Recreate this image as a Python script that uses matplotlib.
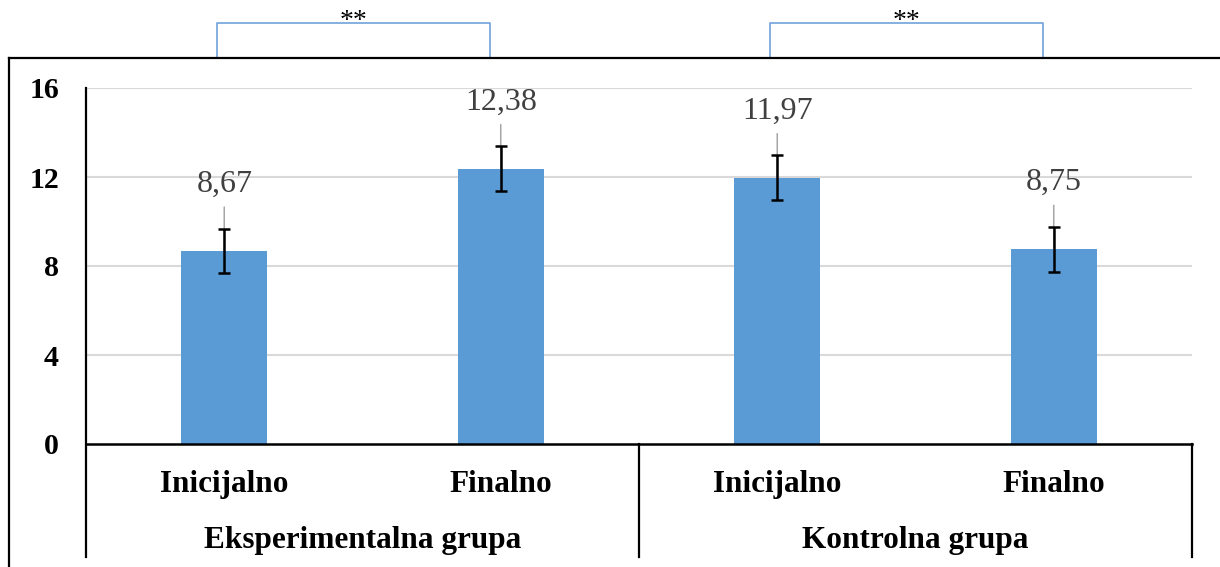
import matplotlib
matplotlib.use("Agg")
import matplotlib.pyplot as plt
from matplotlib.lines import Line2D
import matplotlib.transforms as mtransforms

# --- data ---
categories = ["Inicijalno", "Finalno", "Inicijalno", "Finalno"]
groups = ["Eksperimentalna grupa", "Kontrolna grupa"]
means = [8.67, 12.38, 11.97, 8.75]
errors = [1.0, 1.0, 1.0, 1.0]
value_labels = ["8,67", "12,38", "11,97", "8,75"]
y_ticks = [0, 4, 8, 12, 16]
significance = ["**", "**"]

BAR_COLOR = "#5B9BD5"
GRID_COLOR = "#D9D9D9"
BRACKET_COLOR = "#6FA3DA"
SERIF = ["Liberation Serif", "DejaVu Serif"]

W, H = 1220, 567
fig = plt.figure(figsize=(W / 100, H / 100), dpi=100)
fig.patch.set_facecolor("white")

def fx(px):
    return px / W

def fy(py):
    return 1 - py / H

ax = fig.add_axes([fx(86), fy(444), fx(1192) - fx(86), fy(88) - fy(444)])
x = list(range(len(categories)))

ax.bar(x, means, width=0.31, color=BAR_COLOR, zorder=2)
ax.errorbar(x, means, yerr=errors, fmt="none", ecolor="black",
            elinewidth=1.8, capsize=4.6, capthick=1.8, zorder=4)

ax.set_xlim(-0.5, len(categories) - 0.5)
ax.set_ylim(0, 16)
ax.set_yticks(y_ticks)
ax.set_yticklabels([str(t) for t in y_ticks], fontfamily=SERIF,
                   fontweight="bold", fontsize=21.5)
ax.tick_params(axis="y", length=0, pad=19.5)
ax.set_xticks([])
for t in y_ticks[1:]:
    ax.axhline(t, color=GRID_COLOR, lw=1.5, zorder=1)
for s in ax.spines.values():
    s.set_visible(False)

# value labels with leader lines
for xi, m, lab in zip(x, means, value_labels):
    ax.annotate(lab, xy=(xi, m), xytext=(0, 52), textcoords="offset pixels",
                ha="center", va="bottom", fontsize=23, color="#404040",
                fontfamily=SERIF, zorder=5)
    ax.annotate("", xy=(xi, m), xytext=(0, 44), textcoords="offset pixels",
                arrowprops=dict(arrowstyle="-", color="#A6A6A6", lw=1.1,
                                shrinkA=0, shrinkB=0), zorder=3)

# axis frame lines below the plot (category table)
bx = mtransforms.blended_transform_factory(ax.transData, fig.transFigure)
ax.add_line(Line2D([-0.5, -0.5], [fy(88), fy(557)], transform=bx,
                   color="black", lw=1.6, clip_on=False))
ax.add_line(Line2D([-0.5, 3.5], [fy(444), fy(444)], transform=bx,
                   color="black", lw=1.8, clip_on=False))
for sx in (1.5, 3.5):
    ax.add_line(Line2D([sx, sx], [fy(444), fy(557)], transform=bx,
                       color="black", lw=1.6, clip_on=False))

for xi, c in zip(x, categories):
    ax.text(xi, fy(492), c, transform=bx, ha="center", va="baseline",
            fontfamily=SERIF, fontweight="bold", fontsize=22.5)
for gi, g in enumerate(groups):
    ax.text(2 * gi + 0.5, fy(548), g, transform=bx, ha="center",
            va="baseline", fontfamily=SERIF, fontweight="bold", fontsize=22.5)

# significance brackets
for gi, sig in enumerate(significance):
    x0 = 2 * gi - 0.025
    x1 = 2 * gi + 0.96
    ax.add_line(Line2D([x0, x0, x1, x1], [fy(58), fy(23), fy(23), fy(58)],
                       transform=bx, color=BRACKET_COLOR, lw=1.2,
                       clip_on=False))
    ax.text((x0 + x1) / 2, fy(28.5), sig, transform=bx, ha="center",
            va="baseline", fontfamily=SERIF, fontsize=20)

# outer chart border
fig.add_artist(Line2D([fx(9), fx(9)], [fy(58), 0], color="black", lw=1.6,
                      transform=fig.transFigure))
fig.add_artist(Line2D([fx(9), 1], [fy(58), fy(58)], color="black", lw=1.6,
                      transform=fig.transFigure))

fig.savefig("out.png", dpi=100, facecolor="white")
